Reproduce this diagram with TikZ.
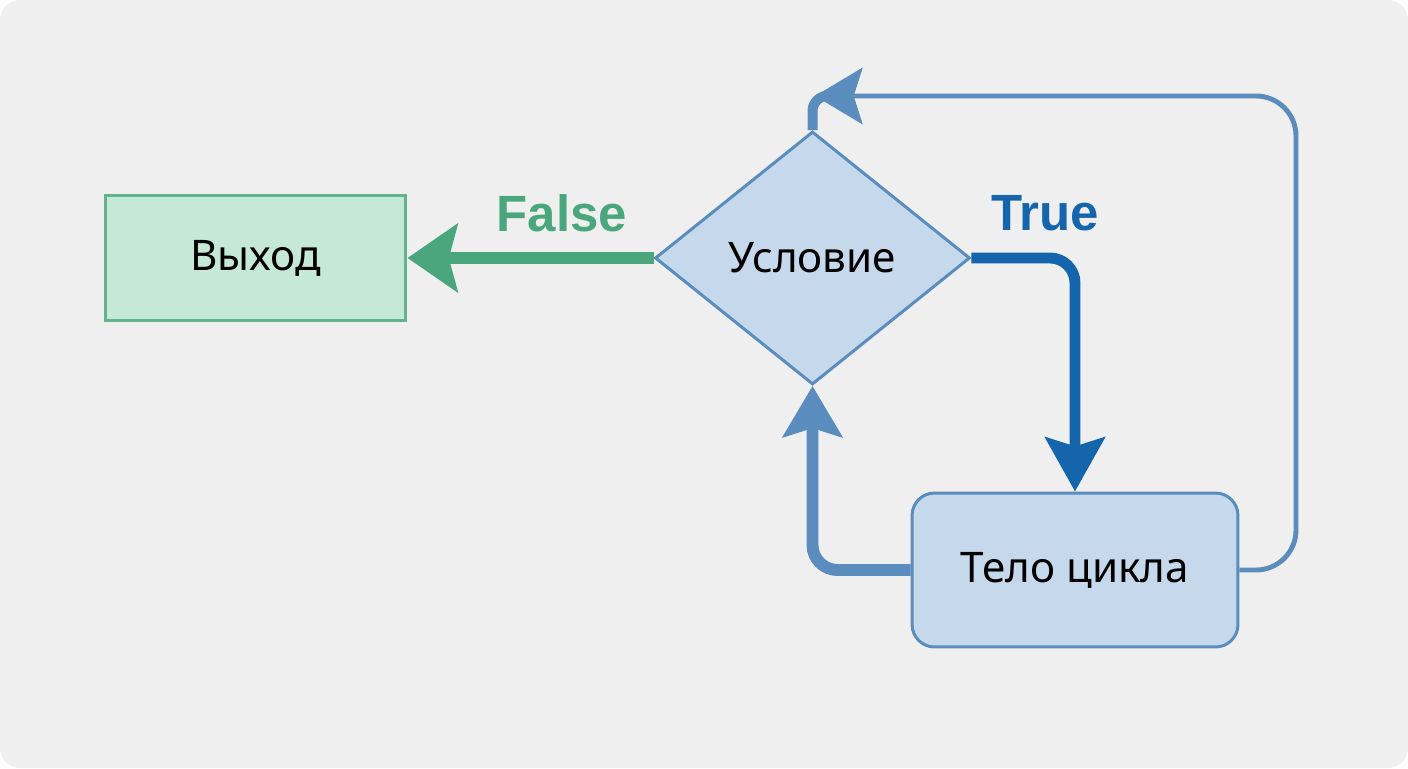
\documentclass[tikz,border=0pt]{standalone}
\usepackage{fontspec}
\setmainfont{Noto Sans}
\newfontfamily\lblfont{Liberation Sans}
\usetikzlibrary{shapes.geometric,arrows.meta}

\definecolor{bggray}{HTML}{EFEFEF}
\definecolor{exitfill}{HTML}{C5E8D7}
\definecolor{exitline}{HTML}{62B48E}
\definecolor{falsegreen}{HTML}{4AA67D}
\definecolor{loopfill}{HTML}{C6D9EC}
\definecolor{loopline}{HTML}{5A8CBE}
\definecolor{trueblue}{HTML}{1565AD}

\begin{document}
\begin{tikzpicture}[x=0.02cm, y=0.02cm,
  exitbox/.style={draw=exitline, fill=exitfill, line width=1.7pt, minimum width=6.02cm, minimum height=2.5cm, font=\fontsize{24}{28}\selectfont},
  cond/.style={draw=loopline, fill=loopfill, diamond, line width=1.7pt, inner sep=0pt, minimum width=6.3cm, minimum height=5.06cm, font=\fontsize{24}{28}\selectfont},
  bodybox/.style={draw=loopline, fill=loopfill, rounded corners=0.45cm, line width=1.7pt, minimum width=6.52cm, minimum height=3.08cm, font=\fontsize{24}{28}\selectfont},
  lbl/.style={font=\lblfont\fontsize{29}{34}\selectfont\bfseries},
  falsearrow/.style={draw=falsegreen, line width=6.8pt, -{Stealth[length=28.5pt, width=38.7pt, inset=5pt]}},
  truearrow/.style={draw=trueblue, line width=6.2pt, rounded corners=0.5cm, -{Stealth[length=30.7pt, width=33.6pt, inset=5pt]}},
  backarrow/.style={draw=loopline, line width=6.8pt, rounded corners=0.5cm, -{Stealth[length=29pt, width=33.6pt, inset=5pt]}},
  outerarrow/.style={draw=loopline, line width=2.8pt, rounded corners=0.8cm, -{Stealth[length=27pt, width=32pt, inset=5pt]}}
]
% background
\fill[bggray, rounded corners=0.4cm] (0,0) rectangle (1408,768);

% nodes
\node[exitbox] (exit) at (255.5,510) {Выход};
\node[cond] (cond) at (812.5,510) {Условие};
\node[bodybox] (body) at (1075,198) {Тело цикла};

\node[lbl, text=falsegreen] (flbl) at (562,555) {False};
\node[lbl, text=trueblue] (tlbl) at (1045,555) {True};

\coordinate (rtop) at (1296,672);
\coordinate (tip) at (815,672);
\coordinate (turn) at (850,672);

% connectors
\draw[falsearrow] (cond.west) -- (exit.east);
\draw[truearrow] (cond.east) -| (body.north);
\draw[backarrow] (body.west) -| (cond.south);
\draw[draw=loopline, line width=5.7pt, rounded corners=0.3cm] (cond.north) |- (turn);
\draw[outerarrow] (body.east) -| (rtop) -- (tip);
\end{tikzpicture}
\end{document}
